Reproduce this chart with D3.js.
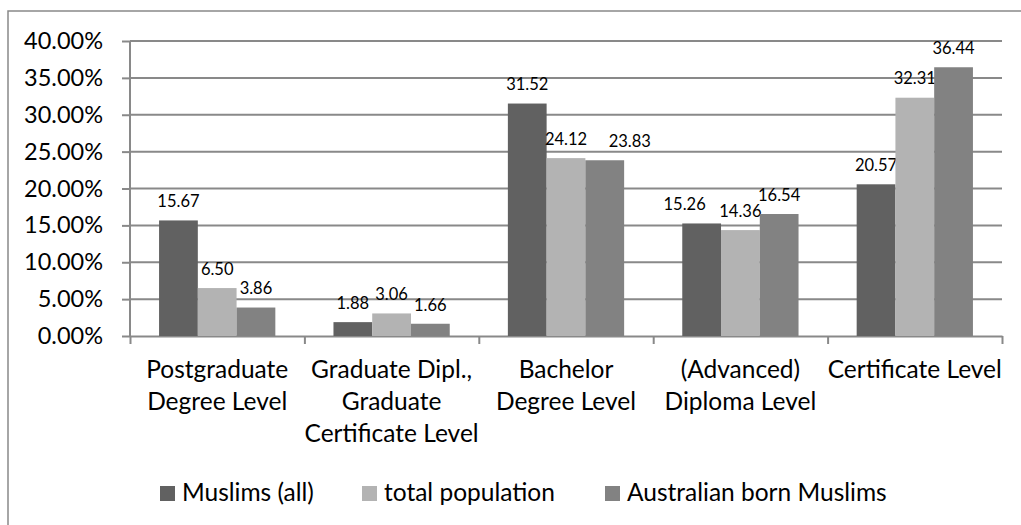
<!DOCTYPE html>
<html>
<head>
<meta charset="utf-8">
<script src="https://cdn.jsdelivr.net/npm/d3@7"></script>
<style>
  body { margin: 0; background: #fff; }
  text { font-family: Lato, sans-serif; fill: #000; }
</style>
</head>
<body>
<script>
// data
var categories = ["Postgraduate Degree Level", "Graduate Dipl., Graduate Certificate Level",
  "Bachelor Degree Level", "(Advanced) Diploma Level", "Certificate Level"];
var categoryLines = [["Postgraduate", "Degree Level"], ["Graduate Dipl.,", "Graduate", "Certificate Level"],
  ["Bachelor", "Degree Level"], ["(Advanced)", "Diploma Level"], ["Certificate Level"]];
var seriesNames = ["Muslims (all)", "total population", "Australian born Muslims"];
var muslimsAll = [15.67, 1.88, 31.52, 15.26, 20.57];
var totalPopulation = [6.50, 3.06, 24.12, 14.36, 32.31];
var australianBorn = [3.86, 1.66, 23.83, 16.54, 36.44];
var yTicks = [0, 5, 10, 15, 20, 25, 30, 35, 40];

var colors = ["#616161", "#b3b3b3", "#828282"];
var series = [muslimsAll, totalPopulation, australianBorn];
// a couple of labels were dragged sideways in the original
var labelNudge = { "15.26": -17, "23.83": 25 };

var w = 1021, h = 525;
var plot = { left: 130, right: 1002, top: 41, bottom: 336 };
var lineCol = "#898989";

var svg = d3.select("body").append("svg")
  .attr("width", w)
  .attr("height", h);

// outer chart frame (only top and left visible)
svg.append("path")
  .attr("d", "M8," + h + "V11H" + w)
  .attr("fill", "none")
  .attr("stroke", lineCol)
  .attr("stroke-width", 1.5);

var x = d3.scaleBand().domain(categories).range([plot.left, plot.right]);
var xInner = d3.scaleBand().domain(seriesNames).range([0, x.bandwidth()]).paddingOuter(0.75);
var y = d3.scaleLinear().domain([0, 40]).range([plot.bottom, plot.top]);

// gridlines
svg.append("g").selectAll("line").data(yTicks.slice(1)).enter().append("line")
  .attr("x1", plot.left).attr("x2", plot.right)
  .attr("y1", function(d) { return y(d); })
  .attr("y2", function(d) { return y(d); })
  .attr("stroke", lineCol).attr("stroke-width", 2);

// y axis
var yAxis = svg.append("g")
  .attr("transform", "translate(" + plot.left + ",0)")
  .call(d3.axisLeft(y).tickValues(yTicks).tickSize(8).tickPadding(19)
    .tickFormat(function(d) { return d.toFixed(2) + "%"; }));
yAxis.select(".domain").remove();
yAxis.selectAll("line").attr("stroke", lineCol).attr("stroke-width", 2);
yAxis.selectAll("text").style("font-size", "23.5px").attr("fill", "#000");

// x axis with ticks between categories
var bounds = categories.map(function(c) { return x(c); }).concat([plot.right]);
var xEdge = d3.scaleLinear().domain([plot.left, plot.right]).range([plot.left, plot.right]);
var xAxis = svg.append("g")
  .attr("transform", "translate(0," + plot.bottom + ")")
  .call(d3.axisBottom(xEdge).tickValues(bounds).tickSize(8).tickSizeOuter(0).tickFormat(""));
xAxis.selectAll("line, path").attr("stroke", lineCol).attr("stroke-width", 2);

svg.append("line")
  .attr("x1", plot.left).attr("x2", plot.left)
  .attr("y1", plot.top).attr("y2", plot.bottom)
  .attr("stroke", lineCol).attr("stroke-width", 2);

// category labels
var catLabel = svg.append("g").selectAll("text").data(categories).enter().append("text")
  .attr("text-anchor", "middle")
  .style("font-size", "24.5px");
catLabel.selectAll("tspan").data(function(d, i) { return categoryLines[i]; }).enter().append("tspan")
  .attr("x", function() { return x(this.parentNode.__data__) + x.bandwidth() / 2; })
  .attr("y", function(d, j) { return 378 + j * 32; })
  .text(function(d) { return d; });

// bars and value labels
seriesNames.forEach(function(name, s) {
  var g = svg.append("g");
  g.selectAll("rect").data(series[s]).enter().append("rect")
    .attr("x", function(d, i) { return x(categories[i]) + xInner(name); })
    .attr("y", function(d) { return y(d); })
    .attr("width", xInner.bandwidth())
    .attr("height", function(d) { return y(0) - y(d); })
    .attr("fill", colors[s]);
  g.selectAll("text").data(series[s]).enter().append("text")
    .attr("x", function(d, i) {
      return x(categories[i]) + xInner(name) + xInner.bandwidth() / 2 + (labelNudge[d.toFixed(2)] || 0);
    })
    .attr("y", function(d) { return y(d) - 19; })
    .attr("dy", "0.35em")
    .attr("text-anchor", "middle")
    .style("font-size", "16.5px")
    .text(function(d) { return d.toFixed(2); });
});

// legend
var legendX = [160, 362, 605];
var legend = svg.append("g").selectAll("g").data(seriesNames).enter().append("g")
  .attr("transform", function(d, i) { return "translate(" + legendX[i] + ",486)"; });
legend.append("rect")
  .attr("width", 15).attr("height", 15)
  .attr("fill", function(d, i) { return colors[i]; });
legend.append("text")
  .attr("x", 22).attr("y", 15)
  .style("font-size", "24.5px")
  .text(function(d) { return d; });
</script>
</body>
</html>
